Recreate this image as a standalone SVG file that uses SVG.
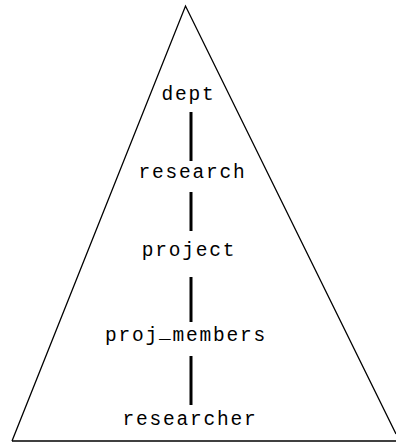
<svg xmlns="http://www.w3.org/2000/svg" width="396" height="444" viewBox="0 0 396 444">
  <style>
    .frame { fill: none; stroke: #000; stroke-width: 1.3; }
    .link { stroke: #000; stroke-width: 3; }
    .label { font-family: "Liberation Mono", "DejaVu Sans Mono", monospace; font-size: 19.5px; letter-spacing: 1.8px; fill: #000; text-anchor: middle; }
  </style>
  <rect width="396" height="444" fill="#fff"/>
  <!-- enclosing triangle -->
  <g id="triangle">
    <polyline class="frame" points="12,441 185.5,6 396,434"/>
    <line class="frame" x1="12" y1="441" x2="396" y2="441"/>
  </g>
  <g id="connectors">
    <line class="link" x1="191" y1="112" x2="191" y2="161"/>
    <line class="link" x1="191" y1="192" x2="191" y2="231"/>
    <line class="link" x1="191" y1="277" x2="191" y2="322"/>
    <line class="link" x1="191" y1="356" x2="191" y2="405"/>
  </g>
  <g id="dept"><text class="label" x="188.5" y="100">dept</text></g>
  <g id="research"><text class="label" x="192.5" y="178">research</text></g>
  <g id="project"><text class="label" x="189" y="256">project</text></g>
  <g id="proj_members"><text class="label" x="186" y="341">proj<tspan dy="-3">_</tspan><tspan dy="3">members</tspan></text></g>
  <g id="researcher"><text class="label" x="190" y="425">researcher</text></g>
</svg>
